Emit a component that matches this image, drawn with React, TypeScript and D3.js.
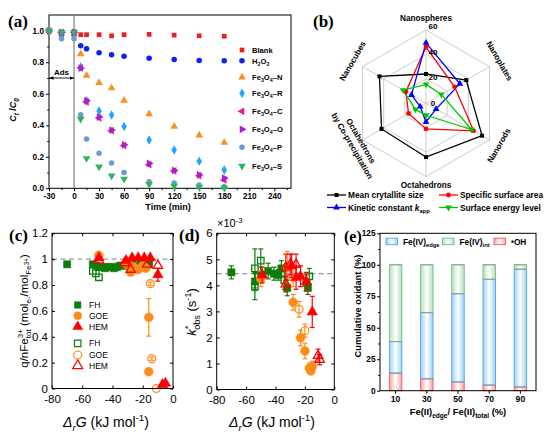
import React, { useEffect, useRef } from "react";
import * as d3 from "d3";

// ---------- (a) C_t/C_0 against time ----------
const times = [-30, -15, 0, 8, 15, 30, 45, 60, 90, 120, 150, 180];
const blankRatio = [1.0, 0.985, 0.985, 0.975, 0.975, 0.975, 0.968, 0.975, 0.977, 0.972, 0.968, 0.965];
const h2o2Ratio = [1.0, 0.975, 0.975, 0.905, 0.885, 0.86, 0.848, 0.838, 0.825, 0.818, 0.811, 0.809];
const fe3o4N = [1.0, 0.985, 0.985, 0.852, 0.716, 0.67, 0.636, 0.557, 0.472, 0.392, 0.337, 0.29];
const fe3o4R = [1.0, 0.975, 0.975, 0.77, 0.555, 0.491, 0.466, 0.392, 0.307, 0.243, 0.172, 0.116];
const fe3o4C = [1.0, 0.99, 0.99, 0.765, 0.549, 0.447, 0.366, 0.271, 0.15, 0.11, 0.08, 0.053];
const fe3o4O = [1.0, 0.99, 0.99, 0.762, 0.555, 0.452, 0.37, 0.276, 0.158, 0.113, 0.085, 0.065];
const fe3o4P = [1.0, 0.95, 0.95, 0.466, 0.313, 0.222, 0.161, 0.1, 0.042, 0.034, 0.021, 0.01];
const fe3o4S = [1.0, 0.99, 0.99, 0.44, 0.19, 0.137, 0.08, 0.059, 0.025, 0.015, 0.008, 0.004];
const timeTicks = [-30, 0, 30, 60, 90, 120, 150, 180, 210, 240];
const ratioTicks = [0, 0.2, 0.4, 0.6, 0.8, 1.0];
const catalystSuffix = ["N", "R", "C", "O", "P", "S"];

// ---------- (b) radar ----------
const shapeNames = ["Nanospheres", "Nanoplates", "Nanorods", "Octahedrons", "Octahedrons|by Co-precipitation", "Nanocubes"];
const crystalliteSize = [24, 38, 53, 44, 42, 44];
const surfaceArea = [46, 27, 45, 21, 16.5, 19];
const kineticConst = [49.5, 32, 9.5, 15.3, 5.5, 13.7];
const surfaceEnergy = [15.5, 14.5, 43, 9.8, 10, 21.6];
const radarTicks = [0, 20, 40, 60];

// ---------- (c) q/nFe vs ΔrG  [ΔrG, q, err] ----------
const fhSolidQ = [[-70, 0.96], [-53, 0.96], [-51, 0.95], [-49, 0.94], [-47, 0.94], [-45, 0.93], [-43, 0.94], [-41, 0.94], [-39, 0.93], [-37, 0.94], [-35, 0.95], [-33, 0.95], [-30, 0.95], [-27, 0.96], [-24, 0.95], [-21, 0.96], [-18, 0.97], [-16, 0.96]];
const fhOpenQ = [[-53, 0.91], [-51, 0.89], [-49, 0.86], [-18, 0.94], [-16, 0.96]];
const goeSolidQ = [[-49, 1.03], [-30, 0.97], [-28, 0.9], [-26, 0.94], [-23, 0.92], [-20, 0.95], [-18, 0.93], [-16, 0.55, 0.145], [-16, 0.13]];
const goeOpenQ = [[-31, 0.96], [-15, 0.81, 0.012], [-14, 0.23, 0.012], [-11, 0.0]];
const hemSolidQ = [[-49, 1.01], [-31, 0.99], [-27, 1.01], [-23, 1.01], [-19, 1.01], [-15, 1.01], [-10, 0.88, 0.05], [-7, 0.03], [-5, 0.04]];
const hemOpenQ = [[-49, 0.99], [-32, 0.97], [-28, 0.92], [-17, 0.96], [-10, 0.95]];
const dGTicks = [-80, -60, -40, -20, 0];
const qTicks = [0, 0.2, 0.4, 0.6, 0.8, 1, 1.2];

// ---------- (d) k*obs vs ΔrG  [ΔrG, k (×1e-3), err] ----------
const fhSolidK = [[-70, 4.5, 0.25], [-54, 4.15, 0.35], [-50, 4.4, 0.3], [-45, 4.55, 0.3], [-41, 4.45, 0.25], [-38, 4.4, 0.2], [-36, 4.65, 0.3], [-32, 3.9, 0.3], [-18, 3.9, 0.25]];
const fhOpenK = [[-54, 4.65, 0.75], [-54, 3.95, 0.5], [-50, 4.95, 0.45], [-34, 4.2, 0.35], [-19, 4.1, 0.3], [-17, 4.35, 0.3]];
const goeSolidK = [[-50, 4.25, 0.3], [-28, 3.35, 0.3], [-23, 1.98, 0.3], [-20, 1.48, 0.3], [-17, 0.82, 0.2], [-16, 0.72, 0.15], [-15, 0.88, 0.2]];
const goeOpenK = [[-32, 4.7, 0.6], [-28, 4.3, 0.35], [-24, 3.08, 0.3], [-20, 2.26, 0.25]];
const hemSolidK = [[-49, 4.4, 0.3], [-29, 4.75, 0.45], [-26, 4.3, 0.45], [-23, 4.35, 0.4], [-19, 4.15, 0.35], [-15, 2.98, 0.6]];
const hemOpenK = [[-33, 4.7, 0.5], [-30, 4.8, 0.4], [-26, 4.8, 0.4], [-33, 4.05, 0.3], [-11, 1.3, 0.25], [-10, 1.15, 0.2]];
const kTicks = [0, 1, 2, 3, 4, 5, 6];
const kRef = 4.45;

// ---------- (e) stacked bars ----------
const edgeFractions = ["10", "30", "50", "70", "90"];
const ohShare = [14, 9.5, 7, 4.5, 3];
const feEdgeShare = [25, 52.5, 70, 84, 93.5];
const feIntShare = [61, 38, 23, 11.5, 3.5];
const oxidantTicks = [0, 25, 50, 75, 100, 125];

const SANS = "'Liberation Sans', Arial, Helvetica, sans-serif";
const SERIF = "'Liberation Serif', 'Times New Roman', serif";

type Part = { t: string; sub?: boolean; sup?: boolean; i?: boolean; dx?: number; y?: number; fs?: number };

// text with sub/superscripts built from tspans
function rich(text: any, parts: Part[], size: number) {
  let shift = 0;
  parts.forEach((p) => {
    const target = p.y !== undefined ? p.y * size : p.sub ? size * 0.3 : p.sup ? -size * 0.4 : 0;
    const ts = text.append("tspan").attr("dy", target - shift).text(p.t);
    const fs = p.fs ?? (p.sub || p.sup ? 0.7 : 1);
    if (fs !== 1) ts.attr("font-size", size * fs);
    if (p.i) ts.attr("font-style", "italic");
    if (p.dx) ts.attr("dx", p.dx);
    shift = target;
  });
}

const symTypes: any = {
  square: d3.symbolSquare,
  circle: d3.symbolCircle,
  tri: d3.symbolTriangle,
  triDown: d3.symbolTriangle,
  triLeft: d3.symbolTriangle,
  triRight: d3.symbolTriangle,
  diamond: d3.symbolDiamond,
};
const symRot: any = { triDown: 180, triLeft: -90, triRight: 90 };

function marker(g: any, shape: string, x: number, y: number, size: number, fill: string, stroke: string, sw = 1) {
  g.append("path")
    .attr("d", d3.symbol().type(symTypes[shape]).size(size)())
    .attr("transform", `translate(${x},${y}) rotate(${symRot[shape] || 0})`)
    .attr("fill", fill)
    .attr("stroke", stroke)
    .attr("stroke-width", sw);
}

function styleAxis(g: any, size: number, bold: boolean) {
  g.attr("font-family", SANS).attr("font-size", size).attr("font-weight", bold ? "bold" : "normal");
  g.select(".domain").remove();
  g.selectAll("line").attr("stroke", "#000");
  g.selectAll("text").attr("fill", "#000");
}

export default function App() {
  const svgRef = useRef<SVGSVGElement>(null);

  useEffect(() => {
    const svg = d3.select(svgRef.current);
    svg.selectAll("*").remove();
    svg.append("rect").attr("width", 550).attr("height", 435).attr("fill", "white");
    const defs = svg.append("defs");

    // panel labels
    [["(a)", 8, 27, 17], ["(b)", 313, 27, 17], ["(c)", 9, 241, 17], ["(d)", 179, 241, 17], ["(e)", 344, 242, 16]].forEach(([t, x, y, fs]) => {
      svg.append("text").attr("x", x).attr("y", y).attr("font-family", SERIF).attr("font-weight", "bold").attr("font-size", fs).text(t as string);
    });

    // ================= (a) =================
    const gA = svg.append("g");
    const xA = d3.scaleLinear().domain([-30, 260]).range([49, 291]);
    const yA = d3.scaleLinear().domain([0, 1.1]).range([188.3, 15]);

    gA.append("g").attr("transform", `translate(0,${yA(0)})`)
      .call(d3.axisBottom(xA).tickValues(d3.range(-15, 260, 30)).tickSize(1.8).tickFormat(() => ""))
      .call((g) => styleAxis(g, 8, true));
    gA.append("g").attr("transform", `translate(0,${yA(0)})`)
      .call(d3.axisBottom(xA).tickValues(timeTicks).tickSize(3).tickPadding(1.5).tickFormat((d) => String(d)))
      .call((g) => styleAxis(g, 8.2, true));
    gA.append("g").attr("transform", `translate(${xA(-30)},0)`)
      .call(d3.axisLeft(yA).tickValues([0.1, 0.3, 0.5, 0.7, 0.9]).tickSize(1.8).tickFormat(() => ""))
      .call((g) => styleAxis(g, 8, true));
    gA.append("g").attr("transform", `translate(${xA(-30)},0)`)
      .call(d3.axisLeft(yA).tickValues(ratioTicks).tickSize(3).tickPadding(2).tickFormat(d3.format(".1f")))
      .call((g) => styleAxis(g, 8.2, true));
    gA.append("rect").attr("x", xA(-30)).attr("y", yA(1.1)).attr("width", xA(260) - xA(-30)).attr("height", yA(0) - yA(1.1))
      .attr("fill", "none").attr("stroke", "#000").attr("stroke-width", 1);

    gA.append("line").attr("x1", xA(0)).attr("x2", xA(0)).attr("y1", yA(1.1)).attr("y2", yA(0)).attr("stroke", "#8a8a8a").attr("stroke-width", 1.3);
    defs.append("marker").attr("id", "arrowHead").attr("viewBox", "0 0 10 10").attr("refX", 10).attr("refY", 5)
      .attr("markerWidth", 5).attr("markerHeight", 5).attr("orient", "auto-start-reverse")
      .append("path").attr("d", "M0,1 L10,5 L0,9 z").attr("fill", "#000");
    gA.append("line").attr("x1", xA(-30)).attr("x2", xA(0)).attr("y1", yA(0.7)).attr("y2", yA(0.7))
      .attr("stroke", "#000").attr("stroke-width", 0.9).attr("marker-start", "url(#arrowHead)").attr("marker-end", "url(#arrowHead)");
    gA.append("text").attr("x", (xA(-30) + xA(0)) / 2).attr("y", yA(0.7) - 3).attr("text-anchor", "middle")
      .attr("font-family", SANS).attr("font-weight", "bold").attr("font-size", 8).text("Ads");

    const aSeries = [
      { v: blankRatio, shape: "square", color: "#ee1c25", size: 22 },
      { v: h2o2Ratio, shape: "circle", color: "#0a22f5", size: 24 },
      { v: fe3o4N, shape: "tri", color: "#f7931e", size: 26 },
      { v: fe3o4R, shape: "diamond", color: "#1ea5ff", size: 26 },
      { v: fe3o4C, shape: "triLeft", color: "#ee1a8a", size: 26 },
      { v: fe3o4O, shape: "triRight", color: "#a321d8", size: 26 },
      { v: fe3o4P, shape: "circle", color: "#6a9bd2", size: 24 },
      { v: fe3o4S, shape: "triDown", color: "#2db45c", size: 26 },
    ];
    aSeries.forEach((s) => {
      s.v.forEach((v, i) => marker(gA, s.shape, xA(times[i]), yA(v), s.size, s.color, "none"));
    });

    // legend (a)
    const legA = [50, 60.7, 77.3, 93.3, 111.3, 129.3, 147.3, 166];
    aSeries.forEach((s, i) => {
      marker(gA, s.shape, 242, legA[i], s.size, s.color, "none");
      const t = gA.append("text").attr("x", 252).attr("y", legA[i] + 2.8).attr("font-family", SANS).attr("font-weight", "bold").attr("font-size", 7.6);
      if (i === 0) t.text("Blank");
      else if (i === 1) rich(t, [{ t: "H" }, { t: "2", sub: true }, { t: "O" }, { t: "2", sub: true }], 7.6);
      else rich(t, [{ t: "Fe" }, { t: "3", sub: true }, { t: "O" }, { t: "4", sub: true }, { t: "\u2013" + catalystSuffix[i - 2] }], 7.6);
    });

    gA.append("text").attr("x", 168).attr("y", 210).attr("text-anchor", "middle").attr("font-family", SANS)
      .attr("font-weight", "bold").attr("font-size", 9).text("Time (min)");
    const yLabA = gA.append("text").attr("transform", "translate(16,110) rotate(-90)").attr("text-anchor", "middle")
      .attr("font-family", SANS).attr("font-weight", "bold").attr("font-size", 9);
    rich(yLabA, [{ t: "C", i: true }, { t: "t", sub: true, i: true }, { t: " /" }, { t: "C", i: true }, { t: "0", sub: true, i: true }], 9);

    // ================= (b) =================
    const gB = svg.append("g");
    const cx = 426, cy = 103.3;
    const rB = d3.scaleLinear().domain([0, 60]).range([0, 73.3]);
    const ang = (i: number) => ((-90 + i * 60) * Math.PI) / 180;
    const pt = (i: number, v: number): [number, number] => [cx + rB(v) * Math.cos(ang(i)), cy + rB(v) * Math.sin(ang(i))];
    const closed = d3.line().curve(d3.curveLinearClosed);

    radarTicks.filter((v) => v > 0).forEach((v) => {
      gB.append("path").attr("d", closed(shapeNames.map((_, i) => pt(i, v)))).attr("fill", "none").attr("stroke", "#cccccc").attr("stroke-width", 1);
    });
    shapeNames.forEach((_, i) => {
      const [x2, y2] = pt(i, 60);
      gB.append("line").attr("x1", cx).attr("y1", cy).attr("x2", x2).attr("y2", y2).attr("stroke", "#cccccc").attr("stroke-width", 1);
    });

    const bSeries = [
      { v: crystalliteSize, color: "#000000", shape: "square", size: 16 },
      { v: surfaceArea, color: "#ff0000", shape: "circle", size: 18 },
      { v: kineticConst, color: "#0000ff", shape: "tri", size: 20 },
      { v: surfaceEnergy, color: "#00c800", shape: "triDown", size: 20 },
    ];
    bSeries.forEach((s) => {
      gB.append("path").attr("d", closed(s.v.map((v, i) => pt(i, v)))).attr("fill", "none").attr("stroke", s.color).attr("stroke-width", 1.3);
    });
    bSeries.forEach((s) => {
      s.v.forEach((v, i) => {
        const [x, y] = pt(i, v);
        marker(gB, s.shape, x, y, s.size, s.color, "none");
      });
    });

    radarTicks.forEach((v) => {
      gB.append("text").attr("x", cx + 7).attr("y", cy - rB(v) * 1.045).attr("dominant-baseline", "central").attr("text-anchor", "middle")
        .attr("font-family", SANS).attr("font-weight", "bold").attr("font-size", 8).text(String(v));
    });

    const labRot = [0, 60, -60, 0, 60, -60];
    const labR = [85, 85, 84, 81.5, 80, 85];
    shapeNames.forEach((name, i) => {
      const x = cx + labR[i] * Math.cos(ang(i));
      const y = cy + labR[i] * Math.sin(ang(i));
      const lines = name.split("|");
      const t = gB.append("text").attr("transform", `translate(${x},${y}) rotate(${labRot[i]})`).attr("text-anchor", "middle")
        .attr("font-family", SANS).attr("font-weight", "bold").attr("font-size", 8.2);
      lines.forEach((ln, k) => {
        t.append("tspan").attr("x", 0).attr("y", (k - (lines.length - 1) / 2) * 10 + 3).text(ln);
      });
    });

    // legend (b)
    const legB = [
      { x: 327, y: 195, parts: [{ t: "Mean crytallite size" }] },
      { x: 439, y: 195, parts: [{ t: "Specific surface area" }] },
      { x: 327, y: 207.5, parts: [{ t: "Kinetic constant " }, { t: "k", i: true }, { t: "app", sub: true }] },
      { x: 439, y: 207.5, parts: [{ t: "Surface energy level" }] },
    ];
    legB.forEach((l, i) => {
      const s = bSeries[i];
      gB.append("line").attr("x1", l.x).attr("x2", l.x + 19).attr("y1", l.y).attr("y2", l.y).attr("stroke", s.color).attr("stroke-width", 1.3);
      marker(gB, s.shape, l.x + 9.5, l.y, s.size, s.color, "none");
      const t = gB.append("text").attr("x", l.x + 21).attr("y", l.y + 3).attr("font-family", SANS).attr("font-weight", "bold").attr("font-size", 8.3);
      rich(t, l.parts, 8.3);
    });

    // ================= (c) and (d) shared MATLAB-style axes =================
    const green = "#0b7d0b", orange = "#ff8c1a", red = "#ff0000";

    function matlabAxes(g: any, x: any, y: any, xt: number[], yt: number[], yfmt: (d: number) => string) {
      const [x0, x1] = x.range();
      const [y0, y1] = y.range();
      g.append("g").attr("transform", `translate(0,${y0})`)
        .call(d3.axisBottom(x).tickValues(xt).tickSize(-3).tickPadding(6.5).tickFormat((d: any) => String(d)))
        .call((a: any) => styleAxis(a, 11.5, false));
      g.append("g").attr("transform", `translate(0,${y1})`)
        .call(d3.axisTop(x).tickValues(xt).tickSize(-3).tickFormat(() => ""))
        .call((a: any) => styleAxis(a, 11.5, false));
      g.append("g").attr("transform", `translate(${x0},0)`)
        .call(d3.axisLeft(y).tickValues(yt).tickSize(-3).tickPadding(4).tickFormat((d: any) => yfmt(d)))
        .call((a: any) => styleAxis(a, 11.5, false));
      g.append("g").attr("transform", `translate(${x1},0)`)
        .call(d3.axisRight(y).tickValues(yt).tickSize(-3).tickFormat(() => ""))
        .call((a: any) => styleAxis(a, 11.5, false));
      g.append("rect").attr("x", x0).attr("y", y1).attr("width", x1 - x0).attr("height", y0 - y1)
        .attr("fill", "none").attr("stroke", "#000").attr("stroke-width", 1);
    }

    function scatter(g: any, data: number[][], x: any, y: any, shape: string, color: string, open: boolean) {
      data.forEach((d) => {
        if (d[2] !== undefined) {
          const lo = y(d[1] - d[2]), hi = y(d[1] + d[2]), px = x(d[0]);
          g.append("line").attr("x1", px).attr("x2", px).attr("y1", lo).attr("y2", hi).attr("stroke", color).attr("stroke-width", 1.2);
          [lo, hi].forEach((yy) => g.append("line").attr("x1", px - 2.5).attr("x2", px + 2.5).attr("y1", yy).attr("y2", yy).attr("stroke", color).attr("stroke-width", 1.2));
        }
      });
      const size = shape === "square" ? 52 : shape === "circle" ? 62 : 48;
      data.forEach((d) => marker(g, shape, x(d[0]), y(d[1]), open ? size * 0.8 : size, open ? "none" : color, color, open ? 1.3 : 0.5));
    }

    const dashed = (g: any, x: any, y: any, v: number) =>
      g.append("line").attr("x1", x.range()[0]).attr("x2", x.range()[1]).attr("y1", y(v)).attr("y2", y(v))
        .attr("stroke", "#9a9a9a").attr("stroke-width", 1.3).attr("stroke-dasharray", "5,3.5");

    // ================= (c) =================
    const gC = svg.append("g");
    const xC = d3.scaleLinear().domain([-80, 0]).range([52, 173]);
    const yC = d3.scaleLinear().domain([0, 1.2]).range([388.5, 233.3]);
    dashed(gC, xC, yC, 1);
    scatter(gC, fhSolidQ, xC, yC, "square", green, false);
    scatter(gC, fhOpenQ, xC, yC, "square", green, true);
    scatter(gC, goeSolidQ, xC, yC, "circle", orange, false);
    scatter(gC, goeOpenQ, xC, yC, "circle", orange, true);
    scatter(gC, hemSolidQ, xC, yC, "tri", red, false);
    scatter(gC, hemOpenQ, xC, yC, "tri", red, true);
    matlabAxes(gC, xC, yC, dGTicks, qTicks, (d) => String(+d.toFixed(1)));

    const legC = [
      { y: 305, shape: "square", color: green, open: false, t: "FH" },
      { y: 315.7, shape: "circle", color: orange, open: false, t: "GOE" },
      { y: 326.7, shape: "tri", color: red, open: false, t: "HEM" },
      { y: 343.3, shape: "square", color: green, open: true, t: "FH" },
      { y: 355, shape: "circle", color: orange, open: true, t: "GOE" },
      { y: 365.7, shape: "tri", color: red, open: true, t: "HEM" },
    ];
    legC.forEach((l) => {
      const size = l.shape === "square" ? 42 : l.shape === "circle" ? 50 : 44;
      marker(gC, l.shape, 77.7, l.y, size, l.open ? "none" : l.color, l.color, l.open ? 1.2 : 0.5);
      gC.append("text").attr("x", 89).attr("y", l.y + 3).attr("font-family", SANS).attr("font-size", 8.5).text(l.t);
    });

    const xLabC = gC.append("text").attr("x", 106).attr("y", 427).attr("text-anchor", "middle").attr("font-family", SANS).attr("font-size", 14);
    rich(xLabC, [{ t: "\u0394", i: true }, { t: "r", sub: true, i: true }, { t: "G", i: true }, { t: " (kJ mol" }, { t: "-1", sup: true }, { t: ")" }], 14);
    const yLabC = gC.append("text").attr("transform", "translate(28,311) rotate(-90)").attr("text-anchor", "middle").attr("font-family", SANS).attr("font-size", 11.5);
    rich(yLabC, [
      { t: "q/nFe" }, { t: "3+", sup: true }, { t: "tot", sub: true, dx: -9 }, { t: " (mol" }, { t: "e-", sub: true },
      { t: "/mol" }, { t: "Fe", sub: true }, { t: "3+", y: 0.05, fs: 0.55 }, { t: ")" },
    ], 11.5);

    // ================= (d) =================
    const gD = svg.append("g");
    const xD = d3.scaleLinear().domain([-80, 0]).range([216.7, 334.3]);
    const yD = d3.scaleLinear().domain([0, 6]).range([389.5, 233.3]);
    dashed(gD, xD, yD, kRef);
    scatter(gD, fhSolidK, xD, yD, "square", green, false);
    scatter(gD, fhOpenK, xD, yD, "square", green, true);
    scatter(gD, goeSolidK, xD, yD, "circle", orange, false);
    scatter(gD, goeOpenK, xD, yD, "circle", orange, true);
    scatter(gD, hemSolidK, xD, yD, "tri", red, false);
    scatter(gD, hemOpenK, xD, yD, "tri", red, true);
    matlabAxes(gD, xD, yD, dGTicks, kTicks, (d) => String(d));

    const expD = gD.append("text").attr("x", 217).attr("y", 227).attr("font-family", SANS).attr("font-size", 11);
    rich(expD, [{ t: "\u00d710" }, { t: "-3", sup: true }], 11);
    const xLabD = gD.append("text").attr("x", 272).attr("y", 427).attr("text-anchor", "middle").attr("font-family", SANS).attr("font-size", 14);
    rich(xLabD, [{ t: "\u0394", i: true }, { t: "r", sub: true, i: true }, { t: "G", i: true }, { t: " (kJ mol" }, { t: "-1", sup: true }, { t: ")" }], 14);
    const yLabD = gD.append("text").attr("transform", "translate(196,312) rotate(-90)").attr("text-anchor", "middle").attr("font-family", SANS).attr("font-size", 13);
    rich(yLabD, [{ t: "k", i: true }, { t: "*", sup: true }, { t: "obs", sub: true, dx: -4 }, { t: " (s" }, { t: "-1", sup: true }, { t: ")" }], 13);

    // ================= (e) =================
    const gE = svg.append("g");
    const xE = d3.scaleBand().domain(edgeFractions).range([380, 536]).paddingInner(0.6).paddingOuter(0.3);
    const yE = d3.scaleLinear().domain([0, 125]).range([390.7, 233.3]);

    const eColors = [
      { id: "gradOH", edge: "#e85d5d", light: "#f5a3a3" },
      { id: "gradEdge", edge: "#4fa6e6", light: "#9bd0f4" },
      { id: "gradInt", edge: "#6cbf86", light: "#b3e0c0" },
    ];
    eColors.forEach((c) => {
      const lg = defs.append("linearGradient").attr("id", c.id).attr("x1", 0).attr("x2", 1).attr("y1", 0).attr("y2", 0);
      lg.append("stop").attr("offset", "0%").attr("stop-color", c.light);
      lg.append("stop").attr("offset", "50%").attr("stop-color", "#ffffff");
      lg.append("stop").attr("offset", "100%").attr("stop-color", c.light);
    });

    const stack = d3.stack<any>().keys(["oh", "edge", "int"])(
      edgeFractions.map((f, i) => ({ f, oh: ohShare[i], edge: feEdgeShare[i], int: feIntShare[i] }))
    );
    stack.forEach((layer, k) => {
      layer.forEach((d: any) => {
        gE.append("rect").attr("x", xE(d.data.f)!).attr("width", xE.bandwidth())
          .attr("y", yE(d[1])).attr("height", yE(d[0]) - yE(d[1]))
          .attr("fill", `url(#${eColors[k].id})`).attr("stroke", eColors[k].edge).attr("stroke-width", 0.9);
      });
    });
    stack.forEach((layer) => {
      layer.forEach((d: any) => {
        gE.append("line").attr("x1", xE(d.data.f)!).attr("x2", xE(d.data.f)! + xE.bandwidth())
          .attr("y1", yE(d[1])).attr("y2", yE(d[1])).attr("stroke", "#9a9a9a").attr("stroke-width", 0.9);
      });
    });

    gE.append("g").attr("transform", `translate(0,${yE(0)})`)
      .call(d3.axisBottom(xE).tickSize(3).tickPadding(2))
      .call((g) => styleAxis(g, 8.6, true));
    gE.append("g").attr("transform", "translate(380,0)")
      .call(d3.axisLeft(yE).tickValues(d3.range(12.5, 125, 25)).tickSize(1.8).tickFormat(() => ""))
      .call((g) => styleAxis(g, 8, true));
    gE.append("g").attr("transform", "translate(380,0)")
      .call(d3.axisLeft(yE).tickValues(oxidantTicks).tickSize(3).tickPadding(1.5))
      .call((g) => styleAxis(g, 8.3, true));
    gE.append("rect").attr("x", 380).attr("y", yE(125)).attr("width", 156).attr("height", yE(0) - yE(125))
      .attr("fill", "none").attr("stroke", "#000").attr("stroke-width", 1);

    const legE = [
      { x: 386, k: 1, parts: [{ t: "Fe(IV)" }, { t: "edge", sub: true }] },
      { x: 442.5, k: 2, parts: [{ t: "Fe(IV)" }, { t: "int", sub: true }] },
      { x: 494, k: 0, parts: [{ t: "\u2022OH" }] },
    ];
    legE.forEach((l) => {
      gE.append("rect").attr("x", l.x).attr("y", 238.2).attr("width", 11.5).attr("height", 6.5)
        .attr("fill", `url(#${eColors[l.k].id})`).attr("stroke", eColors[l.k].edge).attr("stroke-width", 0.9);
      const t = gE.append("text").attr("x", l.x + 17).attr("y", 244.5).attr("font-family", SANS).attr("font-weight", "bold").attr("font-size", 8.3);
      rich(t, l.parts, 8.3);
    });

    const xLabE = gE.append("text").attr("x", 458).attr("y", 415).attr("text-anchor", "middle").attr("font-family", SANS).attr("font-weight", "bold").attr("font-size", 9.4);
    rich(xLabE, [{ t: "Fe(II)" }, { t: "edge", sub: true }, { t: "/ Fe(II)" }, { t: "total", sub: true }, { t: " (%)" }], 9.4);
    gE.append("text").attr("transform", "translate(361,306) rotate(-90)").attr("text-anchor", "middle")
      .attr("font-family", SANS).attr("font-weight", "bold").attr("font-size", 9.3).text("Cumulative oxidant (%)");
  }, []);

  return <svg ref={svgRef} width={550} height={435} style={{ position: "absolute", left: 0, top: 0 }} />;
}
